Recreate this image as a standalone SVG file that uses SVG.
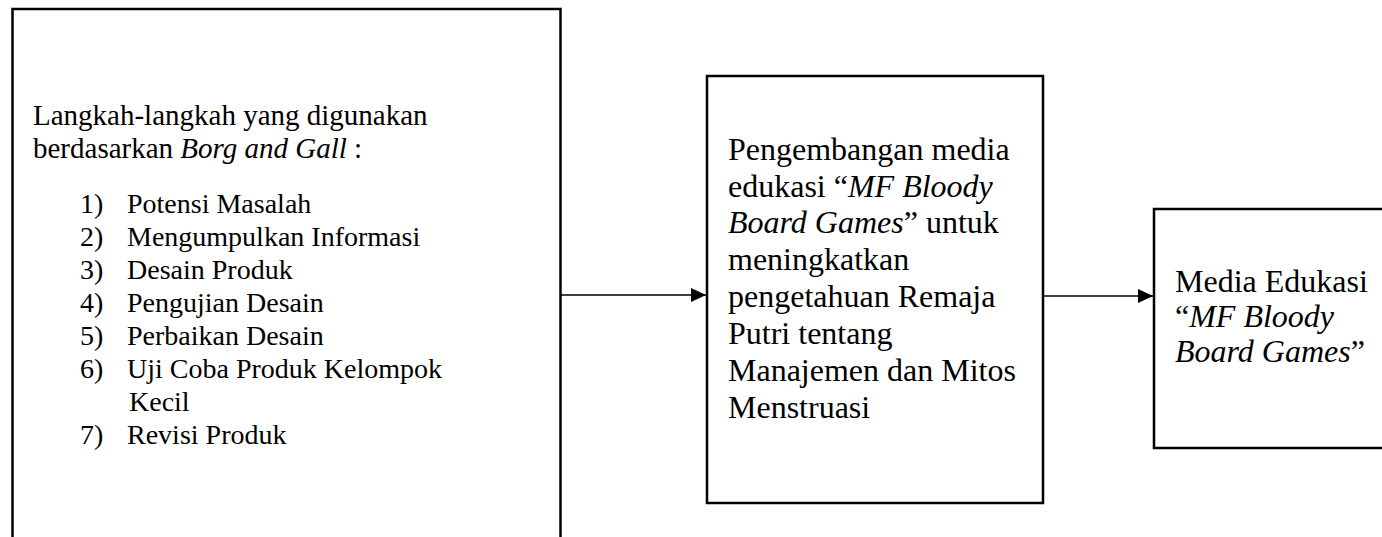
<svg xmlns="http://www.w3.org/2000/svg" width="1382" height="537" viewBox="0 0 1382 537">
<style>
  .box { fill: #ffffff; stroke: #000000; stroke-width: 2.5; }
  .conn { stroke: #000000; stroke-width: 1.5; fill: none; }
  .t { font-family: "Liberation Serif", "Times New Roman", serif; fill: #000000; }
  .h { font-size: 29px; }
  .l { font-size: 28px; }
  .m { font-size: 32px; }
  .i { font-style: italic; }
</style>
<defs>
  <marker id="arrow" markerUnits="userSpaceOnUse" markerWidth="16" markerHeight="14" refX="15" refY="7" orient="auto">
    <path d="M0,0 L15,7 L0,14 Z" fill="#000000"/>
  </marker>
</defs>
<rect width="1382" height="537" fill="#ffffff"/>
<g id="node-steps">
  <rect class="box" x="12.5" y="9" width="548" height="560"/>
  <text class="t h" x="33" y="125">Langkah-langkah yang digunakan</text>
  <text class="t h" x="33" y="158">berdasarkan <tspan class="i">Borg and Gall</tspan> :</text>
  <text class="t l" x="80" y="213">1)</text><text class="t l" x="127" y="213">Potensi Masalah</text>
  <text class="t l" x="80" y="246">2)</text><text class="t l" x="127" y="246">Mengumpulkan Informasi</text>
  <text class="t l" x="80" y="279">3)</text><text class="t l" x="127" y="279">Desain Produk</text>
  <text class="t l" x="80" y="312">4)</text><text class="t l" x="127" y="312">Pengujian Desain</text>
  <text class="t l" x="80" y="345">5)</text><text class="t l" x="127" y="345">Perbaikan Desain</text>
  <text class="t l" x="80" y="378">6)</text><text class="t l" x="127" y="378">Uji Coba Produk Kelompok</text>
  <text class="t l" x="129" y="411">Kecil</text>
  <text class="t l" x="80" y="444">7)</text><text class="t l" x="127" y="444">Revisi Produk</text>
</g>
<g id="node-development">
  <rect class="box" x="707" y="76" width="336" height="427"/>
  <text class="t m" x="728" y="160">Pengembangan media</text>
  <text class="t m" x="728" y="197">edukasi “<tspan class="i">MF Bloody</tspan></text>
  <text class="t m" x="728" y="233"><tspan class="i">Board Games</tspan>” untuk</text>
  <text class="t m" x="728" y="270">meningkatkan</text>
  <text class="t m" x="728" y="307">pengetahuan Remaja</text>
  <text class="t m" x="728" y="344">Putri tentang</text>
  <text class="t m" x="728" y="381">Manajemen dan Mitos</text>
  <text class="t m" x="728" y="418">Menstruasi</text>
</g>
<g id="node-media">
  <rect class="box" x="1154" y="209" width="240" height="239"/>
  <text class="t m" x="1175" y="292">Media Edukasi</text>
  <text class="t m" x="1175" y="327">“<tspan class="i">MF Bloody</tspan></text>
  <text class="t m" x="1175" y="362"><tspan class="i">Board Games</tspan>”</text>
</g>
<g id="connectors">
  <line class="conn" x1="561" y1="295" x2="706" y2="295" marker-end="url(#arrow)"/>
  <line class="conn" x1="1044" y1="296" x2="1153" y2="296" marker-end="url(#arrow)"/>
</g>
</svg>
